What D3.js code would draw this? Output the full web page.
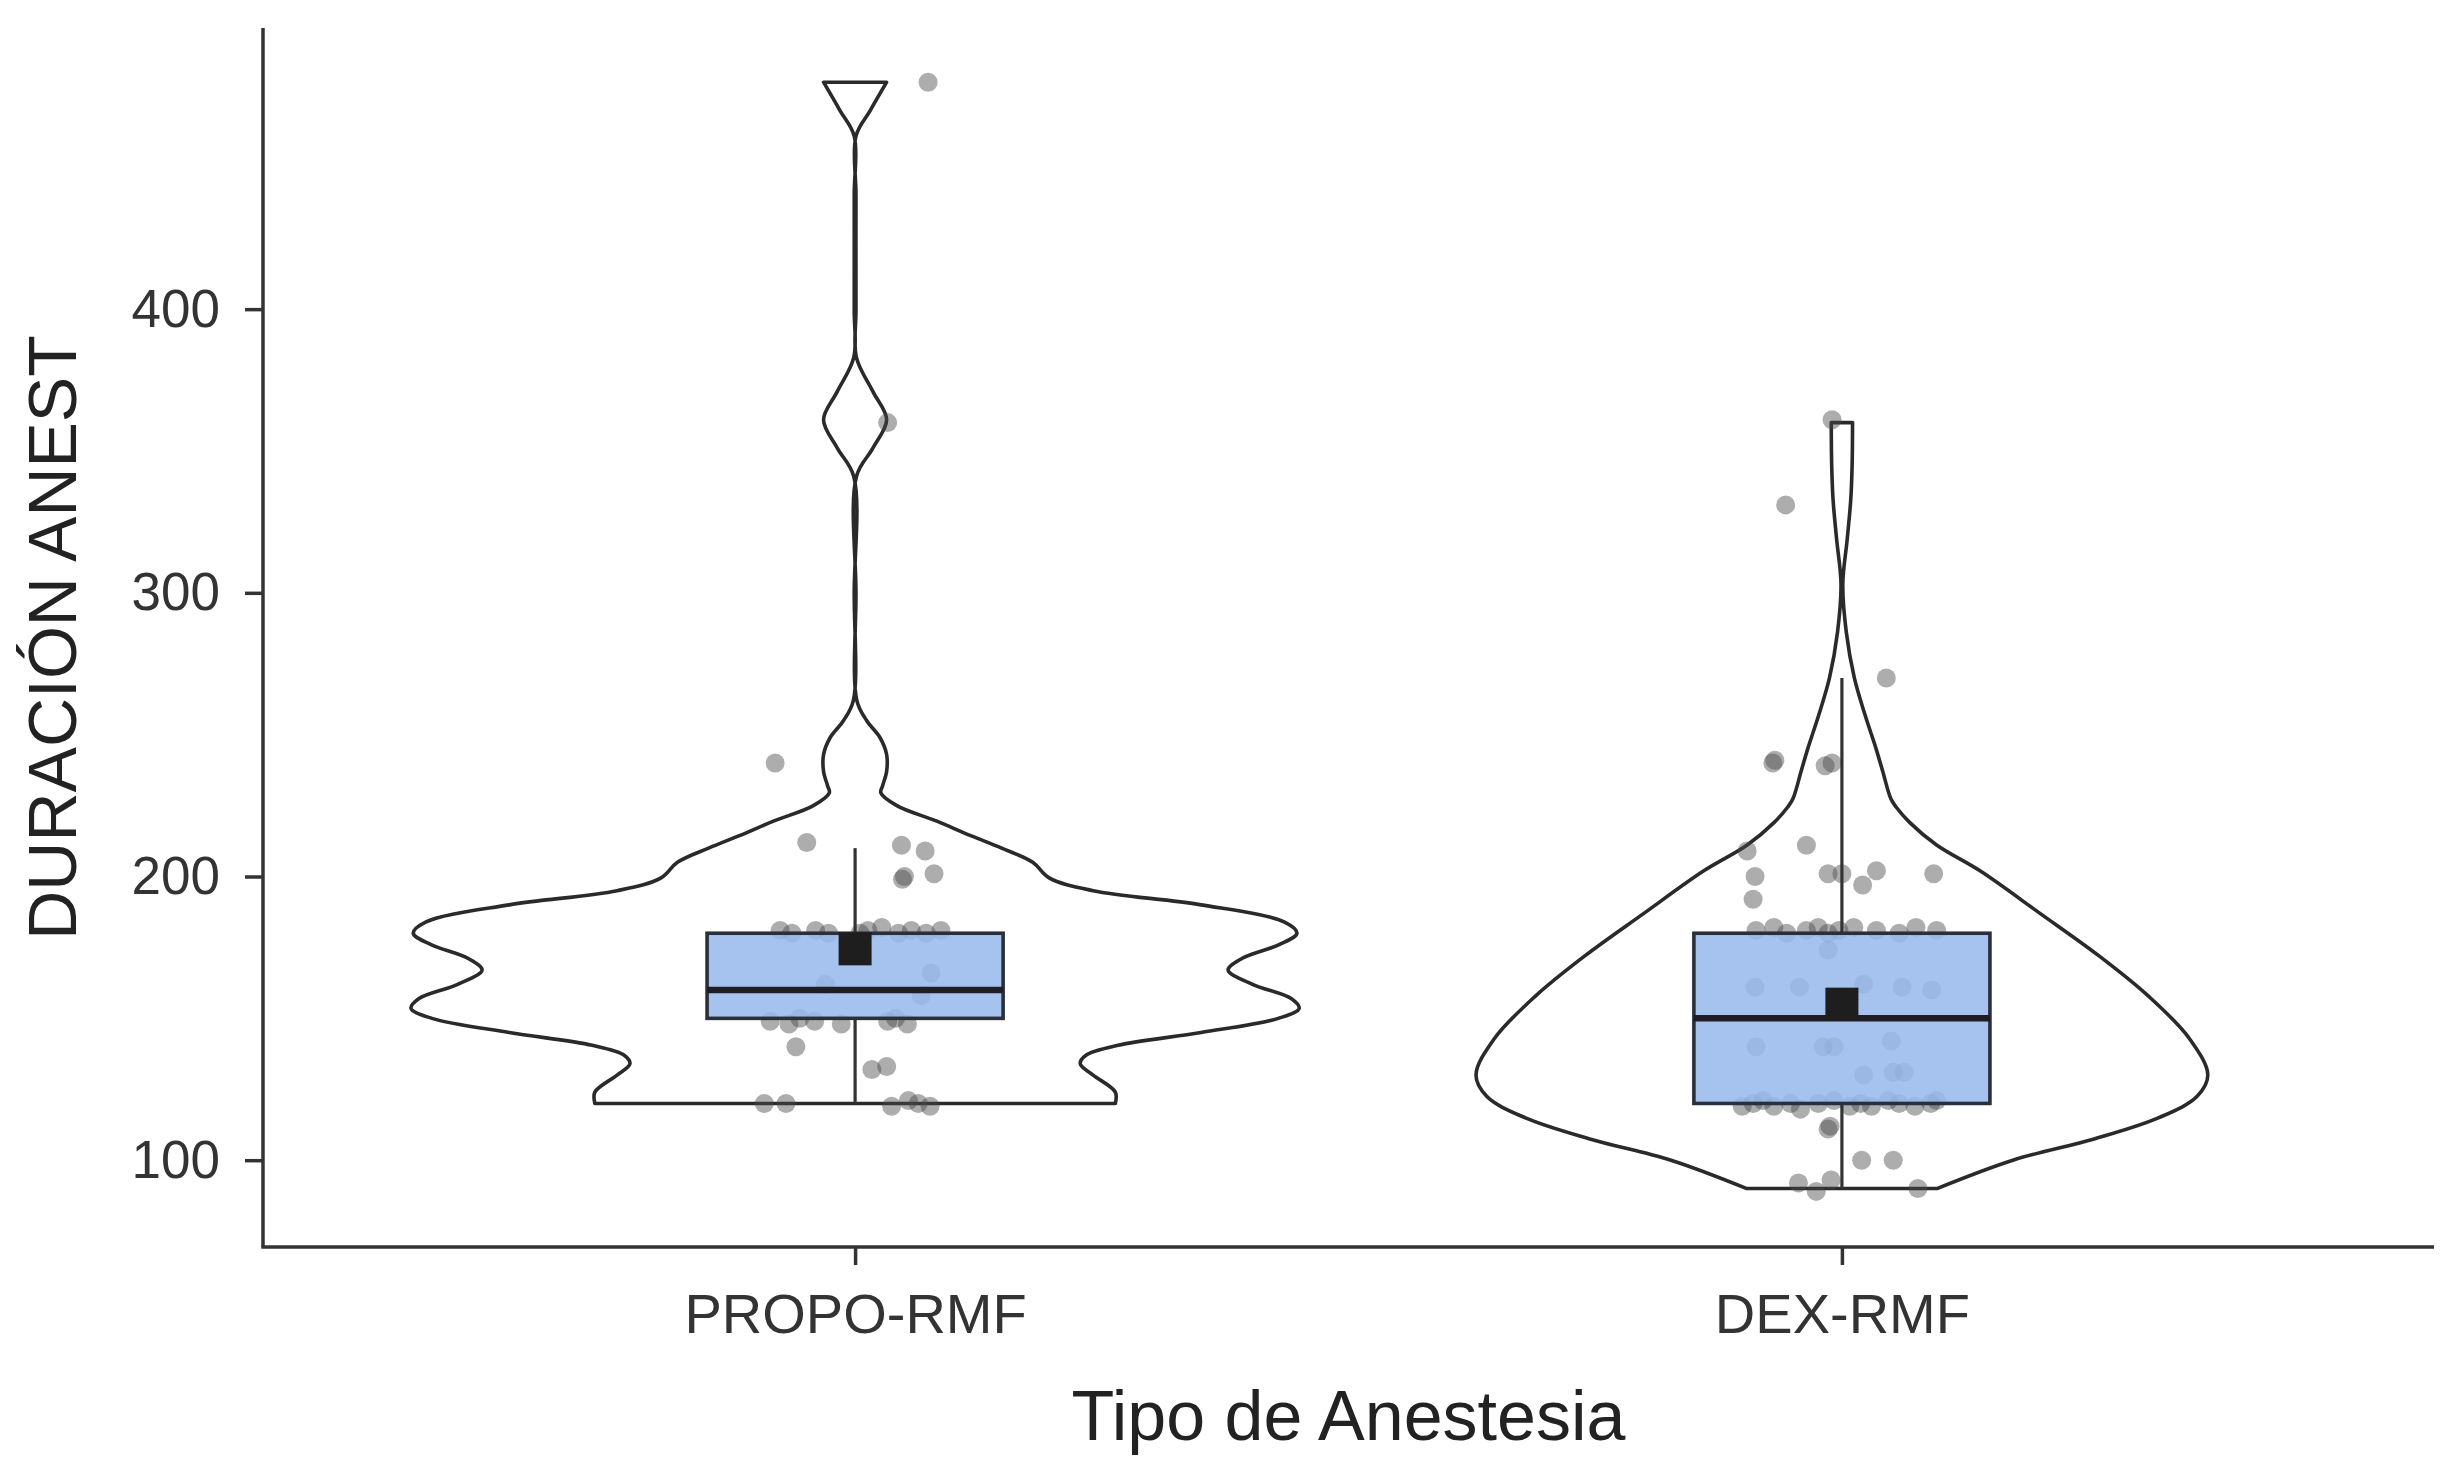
<!DOCTYPE html>
<html>
<head>
<meta charset="utf-8">
<script src="https://cdn.jsdelivr.net/npm/d3@7"></script>
<style>
  html, body { margin: 0; padding: 0; background: #ffffff; }
  svg { display: block; }
</style>
</head>
<body>
<svg id="chart" width="2458" height="1470"></svg>
<script>
// ---------------- DATA ----------------
const categories = ["PROPO-RMF", "DEX-RMF"];
const yTickValues = [100, 200, 300, 400];
const xAxisTitle = "Tipo de Anestesia";
const yAxisTitle = "DURACIÓN ANEST";

// box plot statistics per category
const boxQ1 = [150, 120];
const boxMedian = [160, 150];
const boxQ3 = [180, 180];
const whiskerLow = [120, 90];
const whiskerHigh = [210, 270];
const groupMean = [174.5, 155];

// violin outlines: value and relative (scaled) density
const propoViolinValue = [480, 470, 461, 440, 400, 383, 371, 361, 351, 341, 300, 262, 255, 249, 243, 237, 232, 229.5, 225, 219.5, 214.5, 210, 205, 199.5, 195, 190, 184, 180, 176, 171, 167, 162, 157, 153.5, 150, 145, 140.5, 137, 134, 130, 124, 120];
const propoViolinDensity = [0.071, 0.034, 0.002, 0.002, 0.002, 0.003, 0.040, 0.071, 0.040, 0.003, 0.002, 0.004, 0.026, 0.056, 0.071, 0.071, 0.062, 0.058, 0.094, 0.184, 0.259, 0.330, 0.400, 0.437, 0.536, 0.779, 0.966, 0.995, 0.955, 0.870, 0.840, 0.895, 0.982, 1.000, 0.953, 0.779, 0.592, 0.520, 0.507, 0.536, 0.586, 0.586];

const dexViolinValue = [360, 345, 333, 319, 303, 286, 270, 257, 245, 237, 227.5, 224.5, 219, 211, 202, 187, 172, 158, 143, 130, 122.5, 115, 107.5, 100, 90];
const dexViolinDensity = [0.024, 0.023, 0.020, 0.012, 0.002, 0.010, 0.028, 0.052, 0.077, 0.092, 0.110, 0.122, 0.153, 0.214, 0.311, 0.446, 0.579, 0.689, 0.782, 0.824, 0.800, 0.714, 0.568, 0.385, 0.214];

// raw observations (minutes) and their horizontal jitter (category units)
const propoValues = [480, 360, 240, 212, 211, 209, 200, 199, 201,
  181, 180, 181, 180, 180, 181, 182, 180, 181, 180, 181,
  166, 162, 158,
  149, 148, 150, 149, 148, 149, 150, 148,
  140, 132, 133,
  120, 120, 119, 121, 120, 119];
const propoJitter = [0.074, 0.033, -0.081, -0.049, 0.047, 0.071, 0.050, 0.048, 0.080,
  -0.076, -0.064, -0.040, -0.027, 0.005, 0.013, 0.027, 0.044, 0.057, 0.072, 0.087,
  0.077, -0.030, 0.067,
  -0.086, -0.067, -0.056, -0.041, -0.014, 0.033, 0.041, 0.053,
  -0.060, 0.017, 0.032,
  -0.092, -0.070, 0.037, 0.054, 0.064, 0.076];

const dexValues = [361, 331, 270, 240, 241, 239, 240, 209, 211, 200, 192, 201, 201, 202, 197, 201,
  181, 182, 180, 181, 182, 180, 181, 182, 181, 180, 182, 181,
  174, 161, 161, 162, 161, 160, 140, 140, 140, 142, 130, 131, 131,
  119, 120, 121, 119, 120, 118, 120, 121, 119, 120, 119, 121, 120, 119, 120, 121,
  111, 112, 100, 100, 92, 89, 93, 90];
const dexJitter = [-0.010, -0.057, 0.045, -0.070, -0.068, -0.017, -0.010, -0.096, -0.036, -0.088, -0.090, -0.014, 0.000, 0.035, 0.021, 0.093,
  -0.087, -0.069, -0.056, -0.036, -0.024, -0.014, -0.003, 0.012, 0.035, 0.058, 0.075, 0.096,
  -0.014, -0.088, -0.043, 0.022, 0.061, 0.091, -0.087, -0.019, -0.008, 0.050, 0.022, 0.052, 0.063,
  -0.101, -0.090, -0.080, -0.069, -0.052, -0.042, -0.024, -0.008, 0.008, 0.019, 0.030, 0.047, 0.058, 0.074, 0.090, 0.096,
  -0.014, -0.012, 0.020, 0.052, -0.044, -0.026, -0.011, 0.077];

// ---------------- BUILD ----------------
(function () {
const violins = [
  propoViolinValue.map((v, i) => ({ v, d: propoViolinDensity[i] })),
  dexViolinValue.map((v, i) => ({ v, d: dexViolinDensity[i] }))
];
const points = [
  propoValues.map((v, i) => ({ cat: categories[0], v, j: propoJitter[i] })),
  dexValues.map((v, i) => ({ cat: categories[1], v, j: dexJitter[i] }))
].flat();

const svg = d3.select("#chart");
const FONT = "'Liberation Sans', Arial, Helvetica, sans-serif";
const INK = "#333333";

const plotLeft = 263, plotRight = 2434, plotTop = 28, plotBottom = 1247;

const x = d3.scalePoint().domain(categories).range([plotLeft, plotRight]).padding(0.6);
const y = d3.scaleLinear().domain([69.4, 499.1]).range([plotBottom, plotTop]);
const step = x.step();
const halfViolin = d3.scaleLinear().domain([0, 1]).range([0, 0.45 * step]);
const boxHalf = 0.15 * step;
const meanSize = 33;

// violins
categories.forEach((c, i) => {
  const cx = x(c);
  const area = d3.area()
    .curve(d3.curveCatmullRom.alpha(0.5))
    .y(d => y(d.v))
    .x0(d => cx - halfViolin(d.d))
    .x1(d => cx + halfViolin(d.d));
  svg.append("path")
    .attr("d", area(violins[i]))
    .attr("fill", "#ffffff")
    .attr("stroke", "#2a2a2a")
    .attr("stroke-width", 3.6)
    .attr("stroke-linejoin", "round");
});

// points
svg.append("g").selectAll("circle")
  .data(points)
  .join("circle")
  .attr("cx", d => x(d.cat) + d.j * step)
  .attr("cy", d => y(d.v))
  .attr("r", 9.5)
  .attr("fill", "#4a4a4a")
  .attr("fill-opacity", 0.45);

// whiskers
categories.forEach((c, i) => {
  const cx = x(c);
  svg.append("line")
    .attr("x1", cx).attr("x2", cx)
    .attr("y1", y(boxQ3[i])).attr("y2", y(whiskerHigh[i]))
    .attr("stroke", INK).attr("stroke-width", 3.2);
  svg.append("line")
    .attr("x1", cx).attr("x2", cx)
    .attr("y1", y(boxQ1[i])).attr("y2", y(whiskerLow[i]))
    .attr("stroke", INK).attr("stroke-width", 3.2);
});

// boxes
categories.forEach((c, i) => {
  const cx = x(c);
  svg.append("rect")
    .attr("x", cx - boxHalf)
    .attr("y", y(boxQ3[i]))
    .attr("width", 2 * boxHalf)
    .attr("height", y(boxQ1[i]) - y(boxQ3[i]))
    .attr("fill", "#97b9ed")
    .attr("fill-opacity", 0.86)
    .attr("stroke", "#2b2f3a")
    .attr("stroke-width", 3.6);
  svg.append("line")
    .attr("x1", cx - boxHalf).attr("x2", cx + boxHalf)
    .attr("y1", y(boxMedian[i])).attr("y2", y(boxMedian[i]))
    .attr("stroke", "#1e1e24").attr("stroke-width", 6.5);
  svg.append("rect")
    .attr("x", cx - meanSize / 2)
    .attr("y", y(groupMean[i]) - meanSize / 2)
    .attr("width", meanSize)
    .attr("height", meanSize)
    .attr("fill", "#1e1e1e");
});

// axes
const yAxis = d3.axisLeft(y).tickValues(yTickValues).tickSize(18).tickSizeOuter(0).tickPadding(25);
const gy = svg.append("g").attr("transform", `translate(${plotLeft},0)`).call(yAxis);
gy.select(".domain").attr("stroke", INK).attr("stroke-width", 3.5)
  .attr("d", `M0,${plotTop}V${plotBottom}`);
gy.selectAll(".tick line").attr("stroke", INK).attr("stroke-width", 3.5);
gy.selectAll(".tick text").attr("fill", INK).attr("font-family", FONT).attr("font-size", 53);

const xAxis = d3.axisBottom(x).tickSize(18).tickSizeOuter(0);
const gx = svg.append("g").attr("transform", `translate(0,${plotBottom})`).call(xAxis);
gx.select(".domain").attr("stroke", INK).attr("stroke-width", 3.5)
  .attr("d", `M${plotLeft - 1.75},0H${plotRight}`);
gx.selectAll(".tick line").attr("stroke", INK).attr("stroke-width", 3.5);
gx.selectAll(".tick text").attr("fill", INK).attr("font-family", FONT).attr("font-size", 56)
  .attr("y", 86).attr("dy", 0);

// axis titles
svg.append("text")
  .attr("x", (plotLeft + plotRight) / 2)
  .attr("y", 1440)
  .attr("text-anchor", "middle")
  .attr("font-family", FONT)
  .attr("font-size", 70)
  .attr("fill", "#222222")
  .text(xAxisTitle);

svg.append("text")
  .attr("transform", `translate(76,${(plotTop + plotBottom) / 2}) rotate(-90)`)
  .attr("text-anchor", "middle")
  .attr("font-family", FONT)
  .attr("font-size", 68)
  .attr("fill", "#222222")
  .text(yAxisTitle);
})();
</script>
</body>
</html>
